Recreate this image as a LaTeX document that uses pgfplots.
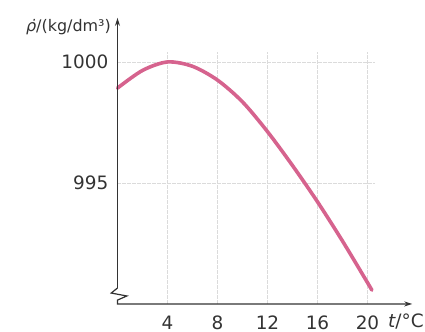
\documentclass[border=0pt]{standalone}
\usepackage{fontspec}
\setmainfont{DejaVu Sans}
\usepackage{pgfplots}
\pgfplotsset{compat=1.18}
\usetikzlibrary{arrows.meta}
\definecolor{curve}{HTML}{D6638E}
\definecolor{txt}{HTML}{333333}
\begin{document}
\begin{tikzpicture}
\begin{axis}[
 x=12.5bp, y=24.2bp,
 xmin=0, xmax=20.6, ymin=990, ymax=1000.4,
 axis lines=left, axis line style={draw=none},
 tick style={draw=none},
 xtick={4,8,12,16,20}, ytick={995,1000},
 grid=major, major grid style={gray!28, line width=0.6bp, dash pattern=on 4bp off 1bp},
 ticklabel style={font=\fontsize{18.5}{20}\selectfont, text=txt},
 /pgf/number format/assume math mode=true,
 /pgf/number format/set thousands separator={},
 xticklabel style={anchor=base, inner sep=0pt, yshift=-23.5bp},
 yticklabel style={xshift=-3.5bp},
 clip=false,
]
\addplot[curve, line width=3.6bp, smooth, tension=0.5, line cap=round] coordinates {
 (0,998.92) (2,999.65) (4,1000.0) (6,999.82) (8,999.25) (10,998.35)
 (12,997.12) (14,995.72) (16,994.22) (18,992.6) (20,990.88) (20.35,990.57)
};
\draw[txt, line width=1.2bp, -{Stealth[length=8bp,width=5bp]}] (axis cs:0,990.66) -- (axis cs:0,1001.82);
\draw[txt, line width=1.2bp, -{Stealth[length=8bp,width=5bp]}, line join=miter]
 (axis cs:0,990.66) -- (axis cs:-0.5,990.45) -- (axis cs:0.75,990.33) -- (axis cs:0,990.16) -- (axis cs:0,990) -- (axis cs:23.58,990);
\node[anchor=base east, inner sep=0pt, font=\fontsize{16}{18}\selectfont, text=txt] at (axis cs:-0.52,1001.25) {{\itshape ρ̇}/(kg/dm³)};
\node[anchor=base west, inner sep=0pt, font=\fontsize{18.5}{20}\selectfont, text=txt] at (axis cs:21.64,990) [yshift=-23.5bp] {{\itshape t}/°C};
\coordinate (bl) at (axis cs:-9.4,988.88);
\coordinate (tr) at (axis cs:24.6,1002.56);
\end{axis}
\pgfresetboundingbox
\useasboundingbox (bl) rectangle (tr);
\end{tikzpicture}
\end{document}
